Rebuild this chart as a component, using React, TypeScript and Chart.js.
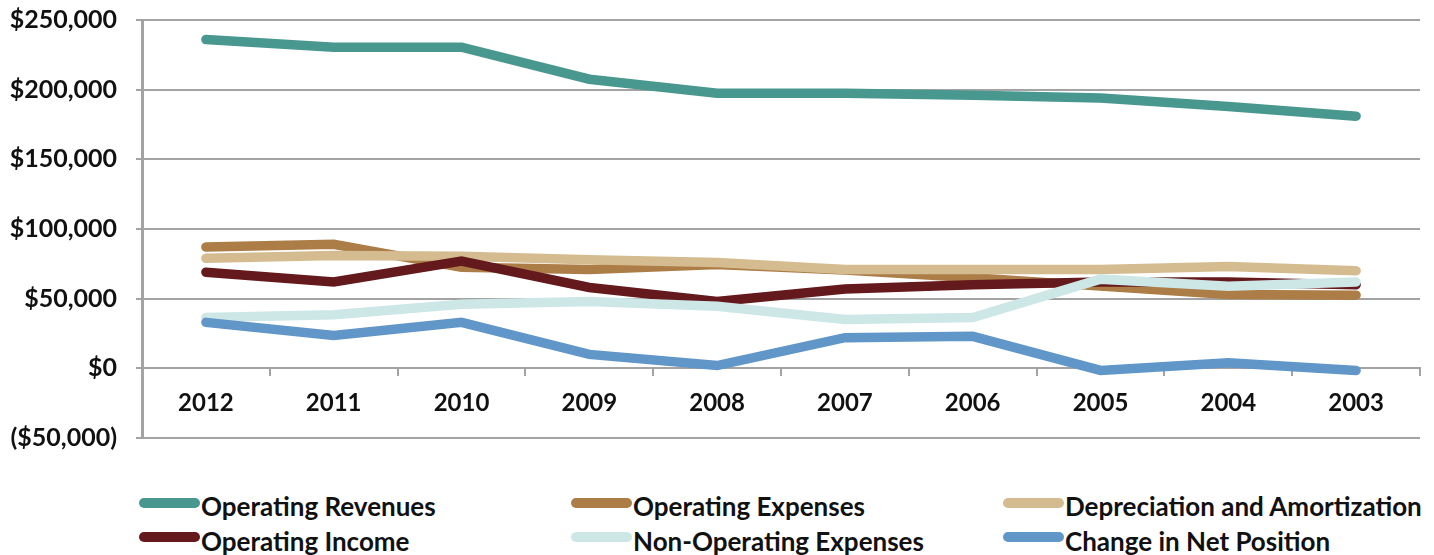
import React, { useEffect, useRef } from "react";
import { Chart, registerables } from "chart.js";

Chart.register(...registerables);

const years = ["2012", "2011", "2010", "2009", "2008", "2007", "2006", "2005", "2004", "2003"];
const operatingRevenues = [236000, 230500, 230500, 207500, 197500, 197500, 196000, 194000, 188000, 181000];
const operatingExpenses = [87000, 89000, 72500, 71000, 74500, 70500, 65000, 59000, 53000, 52500];
const depreciationAmortization = [79000, 81000, 80500, 78000, 76000, 71000, 71000, 71000, 73000, 70000];
const operatingIncome = [69000, 62000, 77000, 58000, 48000, 57000, 60000, 62000, 62000, 60000];
const nonOperatingExpenses = [36500, 38500, 46000, 48000, 44500, 35000, 36500, 64000, 59000, 62000];
const changeInNetPosition = [33000, 23500, 33000, 10000, 2000, 22000, 23000, -1500, 4000, -1500];

const seriesNames = [
  "Operating Revenues",
  "Operating Expenses",
  "Depreciation and Amortization",
  "Operating Income",
  "Non-Operating Expenses",
  "Change in Net Position",
];
const seriesValues = [
  operatingRevenues,
  operatingExpenses,
  depreciationAmortization,
  operatingIncome,
  nonOperatingExpenses,
  changeInNetPosition,
];
const seriesColors = ["#489890", "#ad7d47", "#d4bc90", "#64191c", "#cde7e7", "#6096c8"];

const yMin = -50000;
const yMax = 250000;
const yStep = 50000;

const FONT = "Lato";
const GRID = "#a3a3a3";

function formatMoney(v: number): string {
  const s = "$" + Math.abs(v).toLocaleString("en-US");
  return v < 0 ? "(" + s + ")" : s;
}

const legendCols = [139, 571, 1003];
const legendRowsSwatch = [498, 532];
const legendRowsText = [493, 528];

export default function App() {
  const ref = useRef<HTMLCanvasElement | null>(null);

  useEffect(() => {
    if (!ref.current) return;
    const chart = new Chart(ref.current, {
      type: "line",
      data: {
        labels: years,
        datasets: seriesNames.map((name, i) => ({
          label: name,
          data: seriesValues[i],
          borderColor: seriesColors[i],
          backgroundColor: seriesColors[i],
          borderWidth: 9.5,
          pointRadius: 0,
          pointHoverRadius: 0,
          tension: 0,
          fill: false,
          borderCapStyle: "round" as const,
          borderJoinStyle: "miter" as const,
          order: seriesNames.length - 1 - i,
        })),
      },
      options: {
        responsive: false,
        animation: false,
        events: [],
        layout: { padding: { top: 20, right: 14, bottom: 22, left: 0 } },
        plugins: {
          legend: { display: false },
          tooltip: { enabled: false },
          title: { display: false },
        },
        scales: {
          x: {
            type: "category",
            position: { y: 0 } as any,
            offset: true,
            grid: {
              display: true,
              drawOnChartArea: false,
              drawTicks: true,
              tickLength: 7,
              offset: true,
              color: GRID,
              lineWidth: 2,
            },
            border: { display: true, color: GRID, width: 2 },
            ticks: {
              color: "#111",
              padding: 14,
              font: { family: FONT, size: 24, weight: "bold" },
              maxRotation: 0,
              autoSkip: false,
            },
            afterFit: (scale: any) => {
              scale.height = 0;
            },
          },
          y: {
            type: "linear",
            position: "left",
            min: yMin,
            max: yMax,
            ticks: {
              stepSize: yStep,
              color: "#111",
              padding: 19,
              font: { family: FONT, size: 25, weight: "bold" },
              callback: (v: any) => formatMoney(Number(v)),
            },
            grid: {
              color: GRID,
              lineWidth: 2,
              drawTicks: true,
              tickLength: 6,
            },
            border: { display: true, color: GRID, width: 3 },
            afterFit: (scale: any) => {
              scale.width = 142;
              scale.paddingTop = 14;
              scale.paddingBottom = 14;
            },
          },
        },
      },
    });
    return () => chart.destroy();
  }, []);

  return (
    <div
      style={{
        position: "fixed",
        left: 0,
        top: 0,
        width: 1434,
        height: 555,
        background: "#fff",
        overflow: "hidden",
      }}
    >
      <canvas ref={ref} width={1434} height={460} style={{ display: "block" }} />
      {seriesNames.map((name, i) => {
        const col = i % 3;
        const row = Math.floor(i / 3);
        return (
          <React.Fragment key={name}>
            <div
              style={{
                position: "absolute",
                left: legendCols[col],
                top: legendRowsSwatch[row],
                width: 61,
                height: 10,
                borderRadius: 5,
                background: seriesColors[i],
              }}
            />
            <div
              style={{
                position: "absolute",
                left: legendCols[col] + 62,
                top: legendRowsText[row],
                fontFamily: FONT,
                fontWeight: 700,
                fontSize: 26,
                lineHeight: "26px",
                color: "#111",
                whiteSpace: "nowrap",
              }}
            >
              {name}
            </div>
          </React.Fragment>
        );
      })}
    </div>
  );
}
